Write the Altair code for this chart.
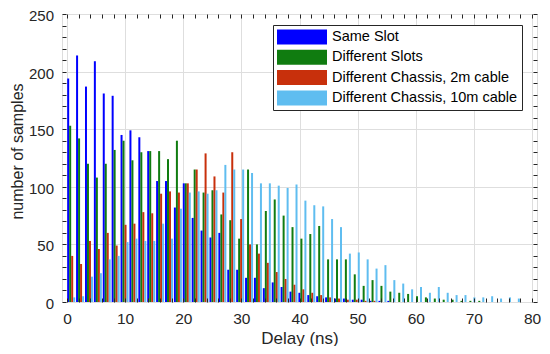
import altair as alt
import pandas as pd

# bin centres (ns)
delay = [0.72, 2.25, 3.78, 5.31, 6.84, 8.37, 9.90, 11.43, 12.96, 14.49,
         16.02, 17.55, 19.08, 20.61, 22.14, 23.67, 25.20, 26.73, 28.26, 29.79,
         31.32, 32.85, 34.38, 35.91, 37.44, 38.97, 40.50, 42.03, 43.56, 45.09,
         46.62, 48.15, 49.68, 51.21, 52.74, 54.27, 55.80, 57.33, 58.86, 60.39,
         61.92, 63.45, 64.98, 66.51, 68.04, 69.57, 71.10, 72.63, 74.16, 75.69,
         77.22]

same_slot = [194, 214, 187, 209, 181, 179, 145, 149, 143, 131,
             105, 105, 82, 103, 73, 62, 56, 60, 28, 28,
             21, 21, 12, 17, 13, 9, 8, 6, 5, 4,
             3, 3, 2, 2, 1, 1, 1, 0, 0, 0,
             0, 0, 0, 0, 0, 0, 0, 0, 0, 0, 0]

diff_slots = [153, 142, 120, 108, 120, 132, 140, 123, 130, 131,
              131, 124, 140, 103, 115, 95, 97, 76, 71, 55,
              115, 50, 79, 89, 75, 65, 55, 59, 66, 37,
              37, 37, 24, 14, 19, 14, 9, 8, 7, 5,
              4, 3, 2, 2, 1, 1, 1, 0, 0, 0, 0]

chassis_2m = [40, 33, 53, 46, 60, 49, 67, 68, 78, 77,
              94, 96, 95, 103, 115, 129, 109, 95, 130, 72,
              50, 42, 34, 26, 20, 15, 11, 8, 6, 4,
              3, 2, 2, 1, 1, 0, 0, 0, 0, 0,
              0, 0, 0, 0, 0, 0, 0, 0, 0, 0, 0]

chassis_10m = [4, 5, 22, 25, 37, 40, 52, 55, 53, 53,
               68, 55, 81, 95, 96, 94, 97, 119, 115, 115,
               112, 103, 103, 101, 99, 102, 88, 84, 83, 72,
               65, 42, 43, 37, 29, 32, 19, 16, 11, 13,
               8, 13, 8, 6, 6, 4, 4, 5, 3, 4, 3]

series_names = ["Same Slot", "Different Slots",
                "Different Chassis, 2m cable", "Different Chassis, 10m cable"]
series_values = [same_slot, diff_slots, chassis_2m, chassis_10m]
colors = ["#0000ff", "#107c10", "#c8300c", "#5fbdf0"]
offsets = [-3, -1, 1, 3]

rows = []
for name, vals in zip(series_names, series_values):
    for d, v in zip(delay, vals):
        rows.append({"delay": d, "series": name, "count": v})
df = pd.DataFrame(rows)

font = "Liberation Sans"
txt = "#262626"

x_scale = alt.Scale(domain=[0, 80], nice=False, zero=False)
y_scale = alt.Scale(domain=[0, 250], nice=False)
c_scale = alt.Scale(domain=series_names, range=colors)

legend = alt.Legend(title=None, orient="none", legendX=211, legendY=11,
                    direction="vertical",
                    symbolType="M-3.125,-0.9375H3.125V0.9375H-3.125Z",
                    symbolSize=256, symbolOffset=17, symbolStrokeWidth=0,
                    symbolOpacity=1,
                    labelFont=font, labelFontSize=14.5, labelColor="black",
                    padding=4, strokeColor=txt, fillColor="white",
                    rowPadding=4.3, labelOffset=22, labelLimit=400)

main_x_axis = alt.Axis(orient="bottom", values=list(range(0, 81, 10)), grid=True,
                       gridColor="#dedede", ticks=False, tickSize=0, domain=False,
                       labelFontSize=15.5, labelPadding=9, labelColor=txt,
                       title="Delay (ns)", titleFontSize=17, titleColor=txt,
                       titleFontWeight="normal", titleBaseline="alphabetic",
                       titleX=237.5, titleY=41)
main_y_axis = alt.Axis(orient="left", values=list(range(0, 251, 50)), grid=True,
                       gridColor="#dedede", ticks=False, tickSize=0, domain=False,
                       labelFontSize=15, labelPadding=8.5, labelColor=txt,
                       labelOffset=1.5,
                       title="number of samples", titleFontSize=16, titleColor=txt,
                       titleFontWeight="normal", titleAngle=-90,
                       titleBaseline="alphabetic", titleAlign="center",
                       titleX=-39.5, titleY=137)

layers = []
for i, (name, col, off) in enumerate(zip(series_names, colors, offsets)):
    xa = main_x_axis if i == 0 else None
    ya = main_y_axis if i == 0 else None
    layers.append(
        alt.Chart(df).transform_filter(alt.datum.series == name)
        .mark_bar(width=2, xOffset=off, opacity=1)
        .encode(
            x=alt.X("delay:Q", scale=x_scale, axis=xa),
            y=alt.Y("count:Q", scale=y_scale, axis=ya),
            color=alt.Color("series:N", scale=c_scale, legend=legend,
                            sort=series_names),
        )
    )


def tick_axis(orient, vals):
    return alt.Axis(orient=orient, values=vals, offset=-4, tickSize=4,
                    tickColor=txt, tickWidth=1, domain=False, labels=False,
                    grid=False, title=None, zindex=2)


xt = list(range(0, 81, 2))
yt = list(range(0, 251, 10))
for xo, yo in [("bottom", "left"), ("top", "right")]:
    layers.append(
        alt.Chart(df).mark_point(opacity=0, size=1)
        .encode(
            x=alt.X("delay:Q", scale=x_scale, axis=tick_axis(xo, xt)),
            y=alt.Y("count:Q", scale=y_scale, axis=tick_axis(yo, yt)),
        )
    )

chart = (
    alt.layer(*layers)
    .resolve_axis(x="independent", y="independent")
    .properties(width=475, height=288,
                padding={"left": 54, "top": 6, "right": 5, "bottom": 44},
                autosize=alt.AutoSizeParams(type="none"))
    .configure_view(stroke=txt, strokeWidth=1)
    .configure_axis(labelFont=font, titleFont=font)
    .configure(background="white")
)

chart.save("out.html", embed_options={"renderer": "svg", "actions": False})
